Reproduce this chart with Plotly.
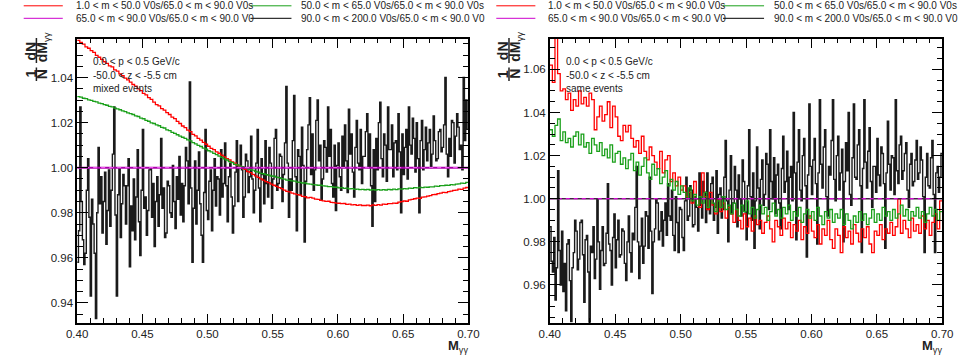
import numpy as np
import plotly.graph_objects as go

# ---------------- data ----------------
BIN_LOW = 0.40
BIN_HIGH = 0.70
N_BINS_COLOR = 150   # red / green ratio histograms
N_BINS_BLACK = 300   # black ratio histograms
MAGENTA_LEVEL = 1.0

LEGEND_LABELS = [
    "1.0 < m < 50.0 V0s/65.0 < m < 90.0 V0s",
    "50.0 < m < 65.0 V0s/65.0 < m < 90.0 V0s",
    "65.0 < m < 90.0 V0s/65.0 < m < 90.0 V0",
    "90.0 < m < 200.0 V0s/65.0 < m < 90.0 V0",
]
INFO_LINES = ["0.0 < p < 0.5 GeV/c", "-50.0 < z < -5.5 cm"]
PANEL_TAGS = ["mixed events", "same events"]
X_TICKS = [0.40, 0.45, 0.50, 0.55, 0.60, 0.65, 0.70]
Y_TICKS_LEFT = [0.94, 0.96, 0.98, 1.00, 1.02, 1.04]
Y_TICKS_RIGHT = [0.96, 0.98, 1.00, 1.02, 1.04, 1.06]
Y_RANGE_LEFT = [0.9312, 1.0571]
Y_RANGE_RIGHT = [0.9425, 1.0741]

mixed_red = [
    1.0565, 1.0556, 1.0548, 1.0536, 1.0530, 1.0519, 1.0512, 1.0498, 1.0490, 1.0481,
    1.0470, 1.0463, 1.0452, 1.0447, 1.0434, 1.0428, 1.0416, 1.0408, 1.0397, 1.0390,
    1.0380, 1.0369, 1.0362, 1.0350, 1.0342, 1.0330, 1.0323, 1.0311, 1.0303, 1.0291,
    1.0280, 1.0274, 1.0262, 1.0255, 1.0244, 1.0236, 1.0224, 1.0218, 1.0205, 1.0196,
    1.0185, 1.0178, 1.0167, 1.0160, 1.0148, 1.0141, 1.0130, 1.0122, 1.0112, 1.0104,
    1.0095, 1.0086, 1.0080, 1.0070, 1.0064, 1.0055, 1.0048, 1.0040, 1.0034, 1.0026,
    1.0020, 1.0011, 1.0006, 0.9997, 0.9992, 0.9983, 0.9978, 0.9970, 0.9964, 0.9957,
    0.9950, 0.9945, 0.9938, 0.9934, 0.9927, 0.9922, 0.9917, 0.9911, 0.9907, 0.9900,
    0.9895, 0.9893, 0.9887, 0.9884, 0.9880, 0.9878, 0.9873, 0.9871, 0.9866, 0.9868,
    0.9865, 0.9860, 0.9859, 0.9855, 0.9853, 0.9850, 0.9851, 0.9846, 0.9845, 0.9843,
    0.9842, 0.9840, 0.9841, 0.9837, 0.9838, 0.9835, 0.9836, 0.9833, 0.9835, 0.9832,
    0.9832, 0.9834, 0.9831, 0.9835, 0.9833, 0.9836, 0.9834, 0.9838, 0.9837, 0.9840,
    0.9840, 0.9843, 0.9842, 0.9847, 0.9849, 0.9852, 0.9851, 0.9857, 0.9859, 0.9862,
    0.9865, 0.9864, 0.9869, 0.9870, 0.9874, 0.9876, 0.9880, 0.9881, 0.9885, 0.9887,
    0.9890, 0.9889, 0.9894, 0.9896, 0.9899, 0.9900, 0.9905, 0.9904, 0.9909, 0.9912,
]
mixed_green = [
    1.0315, 1.0313, 1.0308, 1.0306, 1.0301, 1.0299, 1.0294, 1.0292, 1.0286, 1.0284,
    1.0280, 1.0277, 1.0272, 1.0270, 1.0264, 1.0261, 1.0257, 1.0252, 1.0249, 1.0243,
    1.0240, 1.0236, 1.0230, 1.0227, 1.0220, 1.0217, 1.0210, 1.0206, 1.0199, 1.0196,
    1.0190, 1.0186, 1.0179, 1.0176, 1.0168, 1.0164, 1.0157, 1.0152, 1.0146, 1.0140,
    1.0135, 1.0130, 1.0123, 1.0119, 1.0111, 1.0106, 1.0099, 1.0094, 1.0087, 1.0082,
    1.0075, 1.0070, 1.0063, 1.0058, 1.0051, 1.0046, 1.0039, 1.0034, 1.0027, 1.0022,
    1.0015, 1.0012, 1.0007, 1.0004, 0.9999, 0.9996, 0.9991, 0.9989, 0.9983, 0.9980,
    0.9975, 0.9973, 0.9969, 0.9967, 0.9963, 0.9962, 0.9958, 0.9956, 0.9951, 0.9949,
    0.9945, 0.9944, 0.9941, 0.9940, 0.9936, 0.9935, 0.9932, 0.9932, 0.9928, 0.9927,
    0.9925, 0.9924, 0.9922, 0.9922, 0.9919, 0.9918, 0.9916, 0.9916, 0.9913, 0.9913,
    0.9910, 0.9911, 0.9908, 0.9909, 0.9906, 0.9907, 0.9904, 0.9905, 0.9903, 0.9904,
    0.9902, 0.9904, 0.9901, 0.9903, 0.9901, 0.9903, 0.9900, 0.9903, 0.9901, 0.9904,
    0.9902, 0.9905, 0.9903, 0.9906, 0.9905, 0.9907, 0.9906, 0.9909, 0.9908, 0.9911,
    0.9910, 0.9912, 0.9911, 0.9914, 0.9913, 0.9915, 0.9915, 0.9918, 0.9917, 0.9920,
    0.9920, 0.9922, 0.9921, 0.9925, 0.9924, 0.9927, 0.9928, 0.9931, 0.9930, 0.9935,
]
mixed_black = [
    0.958, 0.972, 1.027, 0.985, 0.968, 0.957, 0.962, 0.990, 1.004, 0.978, 0.943, 0.986, 0.975, 0.962, 0.933, 0.980, 1.009, 0.984, 0.996, 0.971,
    0.985, 0.998, 0.966, 0.981, 0.999, 0.974, 0.990, 1.006, 1.027, 0.979, 0.943, 0.988, 1.000, 0.969, 0.984, 0.997, 0.992, 0.975, 0.992, 1.004,
    0.956, 0.983, 0.972, 0.995, 0.968, 0.987, 1.008, 0.976, 0.961, 0.990, 1.017, 0.982, 0.987, 0.970, 0.981, 0.999, 1.000, 0.978, 0.993, 0.965,
    0.985, 0.996, 0.974, 0.988, 1.013, 0.982, 0.991, 0.969, 0.971, 0.994, 0.992, 0.980, 0.978, 1.001, 0.985, 0.973, 0.996, 0.986, 1.005, 0.979,
    0.993, 0.976, 0.992, 1.009, 1.003, 0.984, 1.038, 0.991, 0.958, 0.982, 1.003, 0.975, 0.990, 1.007, 0.984, 0.970, 0.958, 0.989, 1.017, 0.981,
    0.977, 0.994, 0.999, 0.972, 0.990, 1.004, 0.983, 0.996, 0.995, 0.979, 1.008, 0.987, 0.993, 1.011, 0.992, 0.976, 0.996, 1.002, 0.987, 0.971,
    0.983, 0.998, 1.012, 0.985, 1.000, 1.010, 0.999, 0.978, 0.987, 1.006, 1.003, 0.989, 0.996, 1.014, 0.995, 0.980, 0.990, 1.002, 1.017, 0.991,
    0.976, 1.004, 0.997, 0.984, 1.012, 0.993, 0.987, 1.009, 1.002, 0.982, 0.995, 1.013, 1.017, 0.990, 0.993, 1.006, 1.005, 0.985, 0.997, 1.011,
    1.036, 1.002, 0.978, 0.995, 0.990, 1.012, 1.032, 0.996, 0.972, 1.008, 1.005, 0.988, 1.018, 1.001, 0.967, 0.994, 1.008, 1.019, 1.031, 0.997,
    1.015, 0.990, 0.999, 1.021, 1.030, 1.003, 1.010, 0.986, 0.995, 1.012, 1.009, 0.998, 1.027, 1.005, 1.017, 0.993, 0.987, 1.010, 0.981, 1.001,
    1.011, 0.996, 0.990, 1.014, 1.000, 1.019, 1.003, 0.989, 1.026, 1.006, 1.015, 0.998, 0.987, 1.009, 1.021, 1.002, 0.999, 1.017, 0.993, 1.005,
    1.005, 1.016, 1.024, 1.000, 1.015, 0.992, 0.974, 1.008, 0.985, 1.013, 0.999, 1.020, 1.029, 1.004, 0.996, 1.015, 1.010, 0.994, 1.027, 1.008,
    1.008, 1.019, 0.996, 1.011, 1.012, 0.999, 1.024, 1.007, 0.980, 1.015, 0.997, 1.009, 1.017, 0.995, 1.027, 1.010, 1.006, 1.022, 1.013, 0.998,
    1.020, 1.004, 0.980, 1.012, 1.021, 0.999, 1.008, 1.018, 1.003, 1.011, 1.017, 1.000, 1.006, 1.023, 1.012, 1.003, 1.004, 1.016, 1.017, 1.007,
    1.009, 1.019, 1.040, 1.006, 0.996, 1.013, 1.005, 1.021, 1.020, 1.002, 1.014, 1.024, 1.018, 1.008, 1.010, 0.999, 1.040, 1.012, 1.030, 1.017,
]
same_red = [
    1.062, 1.054, 1.075, 1.058, 1.050, 1.051, 1.046, 1.049, 1.041, 1.046,
    1.043, 1.050, 1.044, 1.047, 1.043, 1.049, 1.046, 1.032, 1.038, 1.043,
    1.036, 1.039, 1.045, 1.033, 1.043, 1.038, 1.029, 1.027, 1.034, 1.031,
    1.034, 1.028, 1.024, 1.027, 1.021, 1.029, 1.022, 1.018, 1.024, 1.020,
    1.017, 1.014, 1.022, 1.012, 1.018, 1.020, 1.008, 1.012, 1.006, 1.010,
    1.004, 1.006, 1.001, 1.003, 0.998, 1.008, 1.000, 0.996, 1.012, 1.001,
    0.995, 1.003, 0.997, 0.993, 1.000, 0.994, 0.998, 0.991, 0.996, 0.993,
    0.989, 0.995, 0.990, 0.986, 0.993, 0.987, 0.991, 0.985, 0.992, 0.988,
    0.990, 0.984, 0.989, 0.992, 0.986, 0.980, 0.990, 0.987, 0.983, 0.991,
    0.986, 0.989, 0.982, 0.988, 0.985, 0.990, 0.981, 0.987, 0.984, 0.992,
    0.985, 0.982, 0.988, 0.979, 0.986, 0.983, 0.990, 0.981, 0.977, 0.986,
    0.983, 0.975, 0.987, 0.982, 0.985, 0.979, 0.988, 0.984, 0.980, 0.986,
    0.982, 0.987, 0.979, 0.975, 0.985, 0.983, 0.988, 0.981, 0.986, 0.984,
    0.989, 0.983, 0.987, 1.000, 0.984, 0.990, 0.986, 0.982, 0.991, 0.985,
    0.988, 0.984, 0.992, 0.986, 0.990, 0.983, 0.989, 0.993, 0.986, 0.999,
]
same_green = [
    1.032, 1.029, 1.034, 1.037, 1.027, 1.031, 1.026, 1.028, 1.024, 1.029,
    1.031, 1.025, 1.030, 1.024, 1.026, 1.021, 1.028, 1.025, 1.022, 1.026,
    1.020, 1.023, 1.019, 1.025, 1.017, 1.021, 1.022, 1.016, 1.019, 1.014,
    1.018, 1.021, 1.013, 1.017, 1.011, 1.015, 1.019, 1.012, 1.009, 1.016,
    1.011, 1.014, 1.007, 1.010, 1.013, 1.006, 1.009, 1.004, 1.008, 1.002,
    1.006, 1.003, 1.000, 1.005, 0.999, 1.002, 0.997, 1.001, 0.998, 1.003,
    0.996, 1.000, 0.998, 0.994, 0.999, 0.996, 1.001, 0.995, 0.997, 0.993,
    0.998, 0.995, 0.992, 0.997, 0.994, 0.999, 0.993, 0.996, 0.991, 0.995,
    0.997, 0.993, 0.996, 0.990, 0.994, 0.998, 0.992, 0.995, 0.991, 0.996,
    0.993, 0.997, 0.990, 0.994, 0.992, 0.996, 0.989, 0.993, 0.995, 0.991,
    0.994, 0.990, 0.996, 0.992, 0.988, 0.994, 0.991, 0.995, 0.989, 0.993,
    0.991, 0.995, 0.988, 0.993, 0.990, 0.986, 0.992, 0.989, 0.994, 0.990,
    0.993, 0.988, 0.991, 0.995, 0.989, 0.993, 0.990, 0.996, 0.992, 0.994,
    0.990, 0.995, 0.991, 0.993, 0.997, 0.992, 0.995, 0.990, 0.994, 0.992,
    0.996, 0.991, 0.994, 0.989, 0.993, 0.996, 0.992, 0.995, 0.990, 0.994,
]
same_black = [
    0.987, 0.971, 0.966, 0.982, 0.953, 0.968, 1.013, 0.976, 0.960, 0.985, 0.957, 0.970, 0.948, 0.979, 0.981, 0.962, 0.943, 0.968, 0.975, 0.990,
    0.985, 0.967, 0.972, 0.989, 0.990, 0.974, 0.952, 0.981, 0.983, 0.966, 0.942, 0.978, 0.975, 0.987, 0.963, 0.972, 1.000, 0.980, 0.958, 0.976,
    0.987, 0.969, 0.970, 0.984, 1.007, 0.979, 0.976, 0.960, 0.982, 0.993, 0.968, 0.981, 0.990, 0.973, 0.974, 0.986, 0.985, 0.970, 0.962, 0.980,
    0.992, 0.975, 0.966, 0.984, 0.981, 0.996, 1.015, 0.980, 0.963, 0.978, 0.991, 0.970, 0.978, 0.994, 0.992, 0.977, 1.010, 0.985, 0.956, 0.980,
    0.986, 1.000, 0.998, 0.981, 0.985, 0.994, 0.978, 0.990, 0.998, 0.983, 1.007, 0.992, 0.990, 1.004, 0.983, 0.976, 1.001, 0.989, 0.975, 0.996,
    0.995, 0.982, 0.976, 0.999, 1.010, 0.990, 0.992, 1.006, 1.004, 0.987, 0.988, 1.001, 0.996, 0.985, 1.012, 0.997, 0.991, 1.008, 1.003, 0.989,
    1.012, 0.995, 0.993, 1.007, 1.010, 0.990, 0.996, 1.013, 0.984, 1.002, 1.005, 0.991, 0.995, 1.010, 1.027, 0.999, 0.980, 1.004, 1.020, 0.993,
    0.998, 1.015, 1.004, 0.987, 1.011, 1.000, 0.992, 1.018, 1.008, 0.994, 0.981, 1.006, 1.032, 1.001, 0.990, 1.012, 0.977, 0.999, 1.024, 1.005,
    0.986, 1.009, 1.018, 0.997, 1.002, 1.021, 1.016, 0.995, 1.032, 1.008, 1.000, 1.019, 0.993, 1.011, 1.016, 0.998, 0.986, 1.014, 1.029, 1.003,
    1.008, 1.022, 0.995, 1.010, 1.015, 0.999, 1.040, 1.012, 0.981, 1.017, 1.032, 1.004, 0.999, 1.020, 1.028, 1.006, 0.973, 1.011, 1.044, 1.015,
    1.002, 1.018, 1.028, 1.007, 0.979, 1.012, 1.046, 1.016, 1.005, 1.024, 1.032, 1.001, 0.992, 1.015, 1.011, 1.027, 1.046, 1.009, 0.999, 1.020,
    1.029, 1.004, 1.012, 1.023, 0.980, 1.008, 1.026, 1.013, 1.040, 1.002, 0.997, 1.019, 1.044, 1.010, 1.009, 1.025, 1.032, 1.006, 0.975, 1.014,
    1.046, 1.017, 1.005, 1.022, 1.033, 1.008, 0.996, 1.015, 1.015, 1.003, 1.028, 1.011, 1.006, 1.024, 1.021, 1.007, 0.977, 1.012, 1.036, 1.016,
    1.004, 1.020, 1.019, 1.002, 1.046, 1.013, 1.007, 1.025, 1.029, 1.009, 1.013, 1.021, 1.026, 1.004, 0.996, 1.016, 1.021, 1.006, 1.008, 1.018,
    1.027, 1.009, 1.012, 1.024, 1.018, 1.001, 0.975, 1.010, 1.021, 1.006, 1.005, 1.019, 1.027, 1.002, 0.975, 1.012, 1.015, 1.003, 1.010, 1.021,
]

# ---------------- styling ----------------
W, H = 966, 358
FONT = "Liberation Sans, Arial, Helvetica, sans-serif"
RED = "#ff0000"
GREEN = "#1aa01a"
MAGENTA = "#cc00cc"
BLACK = "#000000"
TXT = "#222222"

edges_color = np.linspace(BIN_LOW, BIN_HIGH, N_BINS_COLOR + 1)
edges_black = np.linspace(BIN_LOW, BIN_HIGH, N_BINS_BLACK + 1)


def step_y(vals):
    return list(vals) + [vals[-1]]


def px(x):
    return x / W


def py(y):
    return 1 - y / H


fig = go.Figure()

panels = [
    dict(xa="x", ya="y", red=mixed_red, green=mixed_green, black=mixed_black,
         xl=67.7, xr=468.0, yr=Y_RANGE_LEFT, yt=Y_TICKS_LEFT, tag=PANEL_TAGS[0],
         mag_solid="#aa00aa", mag_dash="#ff66ff", mag_w=2.0),
    dict(xa="x2", ya="y2", red=same_red, green=same_green, black=same_black,
         xl=551.3, xr=953.0, yr=Y_RANGE_RIGHT, yt=Y_TICKS_RIGHT, tag=PANEL_TAGS[1],
         mag_solid="#442244", mag_dash="#ff00ff", mag_w=1.3),
]

for p in panels:
    for vals, edg, col, w in [(p["black"], edges_black, "#1a1a1a", 1.4),
                              (p["red"], edges_color, RED, 1.3),
                              (p["green"], edges_color, GREEN, 1.3)]:
        fig.add_trace(go.Scatter(x=edg, y=step_y(vals), mode="lines",
                                 line=dict(color=col, width=w, shape="hv"),
                                 xaxis=p["xa"], yaxis=p["ya"], showlegend=False,
                                 hoverinfo="skip"))
    fig.add_trace(go.Scatter(x=[BIN_LOW, BIN_HIGH], y=[MAGENTA_LEVEL, MAGENTA_LEVEL],
                             mode="lines", line=dict(color=p["mag_solid"], width=p["mag_w"]),
                             xaxis=p["xa"], yaxis=p["ya"], showlegend=False, hoverinfo="skip"))
    fig.add_trace(go.Scatter(x=[BIN_LOW, BIN_HIGH], y=[MAGENTA_LEVEL, MAGENTA_LEVEL],
                             mode="lines", line=dict(color=p["mag_dash"], width=1, dash="4px,4px"),
                             xaxis=p["xa"], yaxis=p["ya"], showlegend=False, hoverinfo="skip"))

y_dom = [35.3 / H, 319.0 / H]

axis_common = dict(showline=True, linecolor="black", linewidth=1.5, mirror="ticks",
                   ticks="inside", tickcolor="black", showgrid=False, zeroline=False,
                   tickfont=dict(family=FONT, size=11.5, color=TXT), tickformat=".2f")

layout = dict(
    width=W, height=H, margin=dict(l=0, r=0, t=0, b=0),
    paper_bgcolor="white", plot_bgcolor="white", showlegend=False,
    font=dict(family=FONT, color=TXT),
)
for k, p in enumerate(panels):
    sx = "" if k == 0 else "2"
    layout["xaxis" + sx] = dict(
        axis_common, domain=[px(p["xl"]), px(p["xr"])], range=[BIN_LOW, BIN_HIGH],
        tickvals=X_TICKS, ticklen=9, tickwidth=1,
        minor=dict(dtick=0.01, ticklen=4.5, ticks="inside", tickcolor="black", tickwidth=1),
        anchor="y" + sx,
    )
    layout["yaxis" + sx] = dict(
        axis_common, domain=y_dom, range=p["yr"], tickvals=p["yt"], ticklen=11, tickwidth=1,
        minor=dict(dtick=0.005, ticklen=6, ticks="inside", tickcolor="black", tickwidth=1),
        anchor="x" + sx,
    )
fig.update_layout(**layout)

annotations = []
shapes = []

for k, p in enumerate(panels):
    off = 0 if k == 0 else 483.6
    # legend
    cols = [(RED, MAGENTA), (GREEN, BLACK)]
    line_x = [(13 + off, 53 + off), (245 + off, 287 + off)]
    text_x = [64 + off, 295 + off]
    rows_y = [5.8, 18.3]
    for c in range(2):
        for r in range(2):
            lbl = LEGEND_LABELS[c + 2 * r]
            shapes.append(dict(type="line", xref="paper", yref="paper",
                               x0=px(line_x[c][0]), x1=px(line_x[c][1]),
                               y0=py(rows_y[r]), y1=py(rows_y[r]),
                               line=dict(color=cols[c][r], width=1)))
            annotations.append(dict(text=lbl, xref="paper", yref="paper",
                                    x=px(text_x[c]), y=py(rows_y[r]), xanchor="left",
                                    yanchor="middle", showarrow=False,
                                    font=dict(family=FONT, size=10, color=TXT)))
    # info text
    tx = p["xl"] + 14.5
    for j, t in enumerate(INFO_LINES + [p["tag"]]):
        annotations.append(dict(text=t, xref="paper", yref="paper", x=px(tx),
                                y=py(62 + 13.2 * j), xanchor="left", yanchor="middle",
                                showarrow=False, font=dict(family=FONT, size=10, color=TXT)))
    # x title
    annotations.append(dict(text="<b>M</b><sub>γγ</sub>", xref="paper", yref="paper",
                            x=px(p["xr"] + 2), y=py(346), xanchor="right", yanchor="middle",
                            showarrow=False, font=dict(family=FONT, size=13, color=TXT)))
    # y title as a fraction (rotated)
    for txt, xx, yy in [("<b>1</b>", 20.0, 74), ("<b>N</b>", 32.0, 74),
                        ("<b>dN</b>", 20.0, 51), ("<b>dM</b><sub>γγ</sub>", 33.0, 47)]:
        annotations.append(dict(text=txt, xref="paper", yref="paper", x=px(xx + off),
                                y=py(yy), xanchor="center", yanchor="middle",
                                textangle=-90, showarrow=False,
                                font=dict(family=FONT, size=14, color=TXT)))
    for y0, y1 in [(67.5, 81), (38, 63)]:
        shapes.append(dict(type="line", xref="paper", yref="paper",
                           x0=px(26.0 + off), x1=px(26.0 + off), y0=py(y0), y1=py(y1),
                           line=dict(color=TXT, width=1.5)))

fig.update_layout(annotations=annotations, shapes=shapes)
fig.write_html("out.html")
